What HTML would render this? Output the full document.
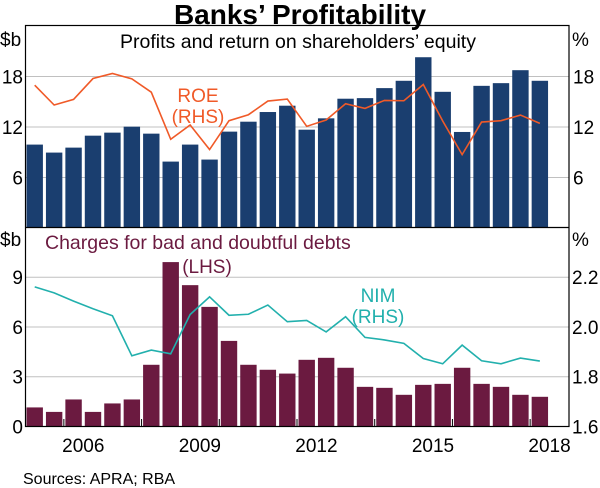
<!DOCTYPE html>
<html><head><meta charset="utf-8"><style>
body{margin:0;background:#fff;}
svg{display:block;font-family:"Liberation Sans",Arial,sans-serif;}
</style></head><body>
<svg id="chart" width="600" height="488" viewBox="0 0 600 488">
<text x="300" y="24" text-anchor="middle" font-size="28" font-weight="bold">Banks’ Profitability</text>
<g id="topPanel"></g>
<g id="botPanel"></g>
<rect x="25.5" y="25.5" width="543.5" height="401" fill="none" stroke="#000" stroke-width="1.2"/>
<line x1="25" x2="569" y1="227.5" y2="227.5" stroke="#000" stroke-width="1.2"/>
<text x="0" y="46" font-size="19">$b</text>
<text x="572" y="46" font-size="19">%</text>
<text x="0" y="246" font-size="19">$b</text>
<text x="572" y="246" font-size="19">%</text>
<text x="298" y="48" text-anchor="middle" font-size="19.5">Profits and return on shareholders’ equity</text>
<text x="45" y="249" font-size="19.5" fill="#6b1a40">Charges for bad and doubtful debts</text>
<text x="207" y="273" text-anchor="middle" font-size="19" fill="#6b1a40">(LHS)</text>
<text x="198" y="102" text-anchor="middle" font-size="19" fill="#f05a28">ROE</text>
<text x="198" y="123" text-anchor="middle" font-size="19" fill="#f05a28">(RHS)</text>
<text x="378" y="302" text-anchor="middle" font-size="19" fill="#22b0ad">NIM</text>
<text x="378" y="323" text-anchor="middle" font-size="19" fill="#22b0ad">(RHS)</text>
<text x="23" y="484" font-size="16">Sources: APRA; RBA</text>
</svg>
<script>
const profits=[9.91,8.96,9.55,10.97,11.33,12.04,11.21,7.89,9.91,8.13,11.45,12.63,13.78,14.53,11.68,13.03,15.36,15.43,16.62,17.49,20.29,16.18,11.41,16.89,17.21,18.75,17.49];
const roe=[16.97,14.61,15.28,17.76,18.36,17.72,16.14,10.54,12.24,9.32,12.75,13.46,15.08,15.32,12.08,12.83,14.76,14.21,15.16,15.12,17.05,12.71,8.72,12.59,12.75,13.42,12.43];
const charges=[1.15,0.88,1.63,0.88,1.39,1.63,3.72,9.91,8.52,7.21,5.16,3.72,3.42,3.19,4.02,4.14,3.54,2.39,2.33,1.91,2.51,2.57,3.54,2.57,2.39,1.91,1.79];
const nim=[2.161,2.137,2.104,2.073,2.045,1.884,1.907,1.892,2.050,2.121,2.047,2.051,2.088,2.021,2.026,1.980,2.041,1.958,1.948,1.934,1.873,1.852,1.927,1.864,1.852,1.875,1.863];
const topTicks=[6,12,18];
const botTicks=[0,3,6,9];
const nimTicks=["1.6","1.8","2.0","2.2"];
const yearLabels=["2006","2009","2012","2015","2018"];
const yearSlots=[3,9,15,21,27];

const NS="http://www.w3.org/2000/svg";
const L=25,R=569,slots=28,sw=(R-L)/slots;
const xc=i=>L+(i+0.5)*sw;
const yTop=v=>228-v*50.5/6;
const yBot=v=>426.5-v*49.77/3;
const yNim=v=>yBot((v-1.6)*15);
function mk(p,tag,a){const e=document.createElementNS(NS,tag);for(const k in a)e.setAttribute(k,a[k]);p.appendChild(e);return e;}
const topG=document.getElementById('topPanel'),botG=document.getElementById('botPanel');

topTicks.forEach(t=>{
  const g=mk(topG,'line',{x1:L,x2:R,y1:yTop(t),y2:yTop(t),stroke:'#c0c0c0','stroke-width':1});
  
  
  const a=mk(topG,'text',{x:23,y:yTop(t)+7,'text-anchor':'end','font-size':19});a.textContent=t;
  
  
  const b=mk(topG,'text',{x:573,y:yTop(t)+7,'font-size':19});b.textContent=t;
  
  
});
botTicks.forEach((t,k)=>{
  if(t>0){const g=mk(botG,'line',{x1:L,x2:R,y1:yBot(t),y2:yBot(t),stroke:'#c0c0c0','stroke-width':1});
  
  }
  const a=mk(botG,'text',{x:23,y:yBot(t)+7,'text-anchor':'end','font-size':19});a.textContent=t;
  
  
  const b=mk(botG,'text',{x:572,y:yBot(t)+7,'font-size':19});b.textContent=nimTicks[k];
  
  
});
profits.forEach((v,i)=>{
  const r=mk(topG,'rect',{x:xc(i)-8.2,y:yTop(v),width:16.4,height:228-yTop(v),fill:'#1a3e6f'});
  
  
});
charges.forEach((v,i)=>{
  const r=mk(botG,'rect',{x:xc(i)-8.2,y:yBot(v),width:16.4,height:426.5-yBot(v),fill:'#6b1a40'});
  
  
});
const p1=mk(topG,'polyline',{points:roe.map((v,i)=>xc(i)+','+yTop(v)).join(' '),fill:'none',stroke:'#f05a28','stroke-width':1.6});


const p2=mk(botG,'polyline',{points:nim.map((v,i)=>xc(i)+','+yNim(v)).join(' '),fill:'none',stroke:'#22b0ad','stroke-width':1.6});


for(let s=2;s<=26;s+=4){
  const t=mk(botG,'line',{x1:L+s*sw,x2:L+s*sw,y1:426,y2:419,stroke:'#000','stroke-width':1});
  
  
}
yearLabels.forEach((y,k)=>{
  const t=mk(botG,'text',{x:L+yearSlots[k]*sw,y:452,'text-anchor':'middle','font-size':19});t.textContent=y;
  
  
});
</script>
</body></html>
